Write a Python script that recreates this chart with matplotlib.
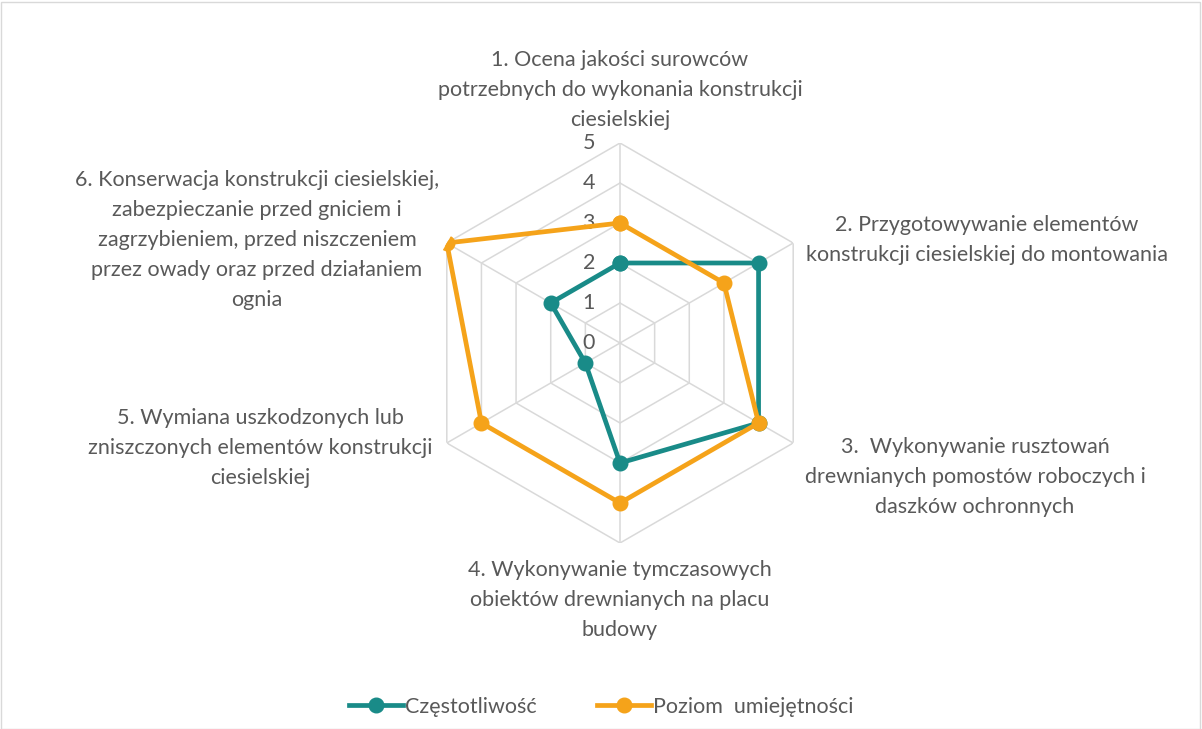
import numpy as np
import matplotlib
matplotlib.use("Agg")
import matplotlib.pyplot as plt
from matplotlib.patches import Rectangle
from matplotlib.lines import Line2D

plt.rcParams['font.family'] = ['Lato', 'DejaVu Sans']

categories = [
    "1. Ocena jakości surowców\npotrzebnych do wykonania konstrukcji\nciesielskiej",
    "2. Przygotowywanie elementów\nkonstrukcji ciesielskiej do montowania",
    "3.  Wykonywanie rusztowań\ndrewnianych pomostów roboczych i\ndaszków ochronnych",
    "4. Wykonywanie tymczasowych\nobiektów drewnianych na placu\nbudowy",
    "5. Wymiana uszkodzonych lub\nzniszczonych elementów konstrukcji\nciesielskiej",
    "6. Konserwacja konstrukcji ciesielskiej,\nzabezpieczanie przed gniciem i\nzagrzybieniem, przed niszczeniem\nprzez owady oraz przed działaniem\nognia",
]
series_names = ["Częstotliwość", "Poziom  umiejętności"]
czestotliwosc = [2, 4, 4, 3, 1, 2]
poziom = [3, 3, 4, 4, 4, 5]
levels = [0, 1, 2, 3, 4, 5]

teal = '#198B88'
orange = '#F5A31A'
grid_c = '#D9D9D9'
text_c = '#595959'
FS = 15.5

W, H = 1202, 729
fig = plt.figure(figsize=(W / 100, H / 100), dpi=100)
fig.patch.set_facecolor('white')
fig.add_artist(Rectangle((0.5 / W, 0.5 / H), 1 - 2.5 / W, 1 - 2.5 / H,
                         transform=fig.transFigure, fill=False,
                         edgecolor=grid_c, linewidth=1.0))

cx, cy, R = 620, 343, 200
ax = fig.add_axes([(cx - R) / W, (H - cy - R) / H, 2 * R / W, 2 * R / H],
                  projection='polar')
ax.set_theta_offset(np.pi / 2)
ax.set_theta_direction(-1)
ax.set_ylim(0, 5)
ax.grid(False)
ax.spines['polar'].set_visible(False)
ax.set_xticks([])
ax.set_yticks([])
ax.patch.set_alpha(0)

n = len(categories)
angles = np.linspace(0, 2 * np.pi, n, endpoint=False)
closed = np.concatenate([angles, angles[:1]])

# hexagon grid
for lv in levels[1:]:
    ax.plot(closed, [lv] * (n + 1), color=grid_c, lw=1.1, zorder=1)
for a in angles:
    ax.plot([a, a], [0, levels[-1]], color=grid_c, lw=1.1, zorder=1)

# radial labels
for lv in levels:
    ax.annotate(str(lv), xy=(0, lv), xytext=(-18, 0), textcoords='offset points',
                ha='right', va='center', fontsize=FS, color=text_c, zorder=2)

for vals, col, name in [(czestotliwosc, teal, series_names[0]),
                        (poziom, orange, series_names[1])]:
    v = list(vals) + [vals[0]]
    ax.plot(closed, v, color=col, lw=3.4, marker='o', markersize=10.5,
            zorder=3, label=name, solid_joinstyle='round')

# category labels (pixel positions of label centres)
label_pos = [(620, 90), (987, 240), (975, 477), (620, 600), (260, 448), (257, 240)]
for txt, (x, y) in zip(categories, label_pos):
    fig.text(x / W, 1 - y / H, txt, ha='center', va='center', fontsize=FS,
             color=text_c, linespacing=1.64)

handles = [Line2D([], [], color=teal, lw=3.4, marker='o', markersize=10.5),
           Line2D([], [], color=orange, lw=3.4, marker='o', markersize=10.5)]
leg = fig.legend(handles, series_names, loc='center', bbox_to_anchor=(0.5, 1 - 707 / H),
                 ncol=2, frameon=False, fontsize=FS, handlelength=2.5,
                 handletextpad=0.1, columnspacing=2.8)
for t in leg.get_texts():
    t.set_color(text_c)

fig.savefig('out.png', dpi=100)
